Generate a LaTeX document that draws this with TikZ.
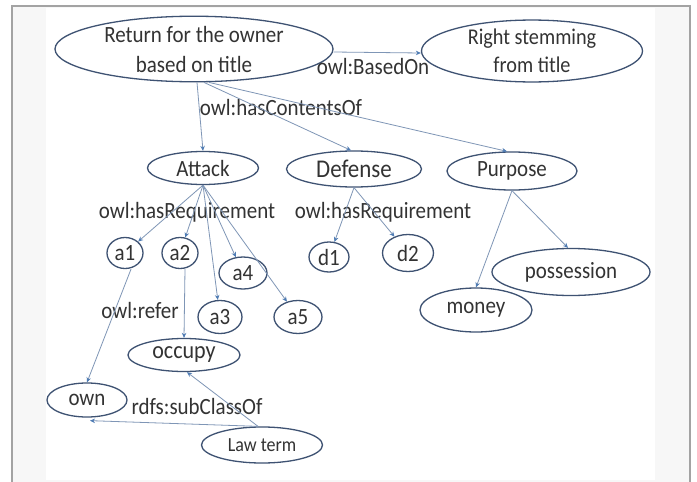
\documentclass[tikz,border=0pt]{standalone}
\usepackage{fontspec}
\setmainfont{Carlito}[FakeStretch=0.9]
\usetikzlibrary{shapes.geometric,arrows.meta}
\definecolor{ringcol}{HTML}{3E5272}
\definecolor{linkcol}{HTML}{7F96B6}
\definecolor{tipcol}{HTML}{4F7CB4}
\definecolor{txtcol}{HTML}{333333}
\definecolor{framecol}{HTML}{A3A3A3}
\definecolor{padcol}{HTML}{F7F7F7}
\tikzset{
  concept/.style={ellipse, draw=ringcol, line width=1.3pt, inner sep=0pt,
    text=txtcol, font=\fontsize{23.3}{30}\selectfont, align=center},
  conn/.style={draw=linkcol, line width=0.8pt,
    -{Stealth[length=5pt,width=4.5pt,color=tipcol,fill=tipcol]}},
  rel/.style={text=txtcol, font=\fontsize{23.3}{28}\selectfont, inner sep=0pt}
}
\begin{document}
\begin{tikzpicture}[x=1pt,y=-1pt]
% page and frame
\useasboundingbox (0,0) rectangle (697,482);
\fill[white] (0,0) rectangle (697,482);
\fill[padcol] (12,6) rectangle (690,482);
\fill[white] (46,8) rectangle (655,480);
\draw[framecol, line width=2pt] (12,482) -- (12,6) -- (690,6) -- (690,482);

% concepts
\node[concept, minimum width=278pt, minimum height=62pt] (ret) at (194,49)
  {Return for the owner\\based on title};
\node[concept, minimum width=221pt, minimum height=60pt,
  font=\fontsize{22.5}{28}\selectfont] (rsf) at (532,51)
  {Right stemming\\from title};
\node[concept, minimum width=111pt, minimum height=33pt] (atk) at (203,168) {Attack};
\node[concept, minimum width=135pt, minimum height=36pt,
  font=\fontsize{25.5}{30}\selectfont] (def) at (354,169) {Defense};
\node[concept, minimum width=130pt, minimum height=38pt] (pur) at (512,171) {Purpose};
\node[concept, minimum width=36pt, minimum height=31pt] (a1) at (125,253) {a1};
\node[concept, minimum width=36pt, minimum height=31pt] (a2) at (180,253) {a2};
\node[concept, minimum width=48pt, minimum height=32pt] (a4) at (243,273) {a4};
\node[concept, minimum width=44pt, minimum height=33pt] (a3) at (220,317) {a3};
\node[concept, minimum width=48pt, minimum height=33pt] (a5) at (298,317) {a5};
\node[concept, minimum width=40pt, minimum height=30pt] (d1) at (329,257) {d1};
\node[concept, minimum width=51pt, minimum height=37pt] (d2) at (408,253) {d2};
\node[concept, minimum width=158pt, minimum height=47pt] (poss) at (571,272) {possession};
\node[concept, minimum width=112pt, minimum height=44pt] (money) at (476,310) {money};
\node[concept, minimum width=112pt, minimum height=33pt,
  font=\fontsize{24.5}{30}\selectfont] (occ) at (184,355) {occupy};
\node[concept, minimum width=80pt, minimum height=34pt] (own) at (87,400) {own};
\node[concept, minimum width=121pt, minimum height=36pt,
  font=\fontsize{20}{24}\selectfont] (law) at (262,445) {Law term};

% relation labels
\node[rel] (lbased) at (373,67) {owl:BasedOn};
\node[rel] (lcont) at (281,108) {owl:hasContentsOf};
\node[rel] (lreqa) at (187,212) {owl:hasRequirement};
\node[rel] (lreqd) at (383,212) {owl:hasRequirement};
\node[rel] (lrefer) at (140,310) {owl:refer};
\node[rel] (lsub) at (197,406) {rdfs:subClassOf};

% connectors
\draw[conn] ([yshift=-3pt]ret.east) -- ([yshift=-2pt]rsf.west);
\draw[conn] ([xshift=3pt]ret.south) -- (atk.north);
\draw[conn] ([xshift=10pt]ret.south) -- ([xshift=-3pt]def.north);
\draw[conn] ([xshift=15pt]ret.south) -- ([xshift=-5pt]pur.north);
\foreach \n in {a1,a2,a3,a4,a5}
  \draw[conn] (atk.south) -- (\n);
\draw[conn] (def.south) -- (d1);
\draw[conn] (def.south) -- (d2);
\draw[conn] (pur.south) -- (money.north);
\draw[conn] (pur.south) -- ([xshift=-3pt]poss.north);
\draw[conn] ([xshift=6pt]a1.south) -- (own.north);
\draw[conn] ([xshift=5pt]a2.south) -- (occ.north);
\draw[conn] ([xshift=-4pt]law.north) -- ([xshift=3pt]occ.south);
\draw[conn] ([xshift=-4pt]law.north) -- ([xshift=3pt,yshift=-3pt]own.south);
\end{tikzpicture}
\end{document}
